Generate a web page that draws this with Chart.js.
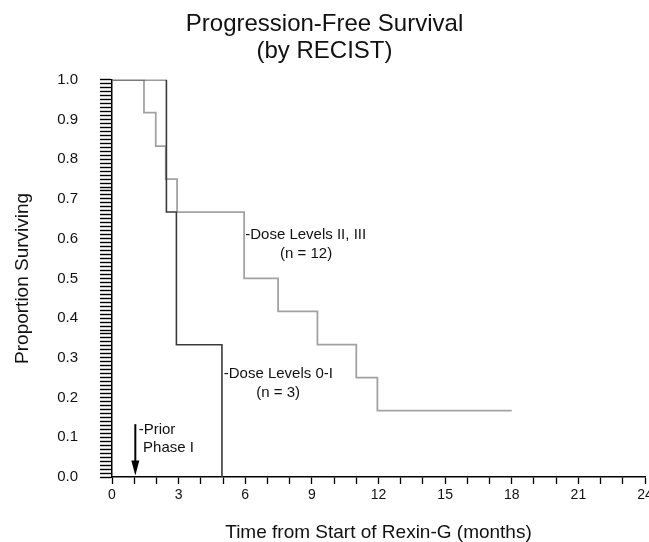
<!DOCTYPE html>
<html>
<head>
<meta charset="utf-8">
<title>Progression-Free Survival</title>
<script src="https://cdn.jsdelivr.net/npm/chart.js@4.4.1/dist/chart.umd.min.js"></script>
<style>
    html, body { margin: 0; padding: 0; background: #fff; }
</style>
</head>
<body>
<canvas id="pfsChart" width="649" height="542"></canvas>
<script>
// Kaplan-Meier steps (months, proportion surviving)
const lowDoseTimes = [0, 2.45, 2.9, 4.95];
const lowDoseSurv = [1.0, 0.667, 0.333, 0.0];

const highDoseTimes = [0, 1.44, 1.97, 2.42, 2.93, 5.95, 7.48, 9.25, 11.0, 11.95, 18.0];
const highDoseSurv = [1.0, 0.917, 0.833, 0.750, 0.667, 0.500, 0.417, 0.333, 0.250, 0.167, 0.167];

const seriesNames = ['Dose Levels 0-I', 'Dose Levels II, III'];
const titleLines = ['Progression-Free Survival', '(by RECIST)'];
const xTitle = 'Time from Start of Rexin-G (months)';
const yTitle = 'Proportion Surviving';
const noteTexts = ['-Dose Levels II, III', '(n = 12)', '-Dose Levels 0-I', '(n = 3)', '-Prior', 'Phase I'];

Chart.defaults.font.family = '"Liberation Sans", Arial, Helvetica, sans-serif';
Chart.defaults.color = '#111';

function toPoints(xs, ys) {
    return xs.map((t, i) => ({ x: t, y: ys[i] }));
}

// texto das anotações, em unidades dos eixos
const notes = [
    { text: noteTexts[0], x: 6.0, y: 0.61, align: 'left' },
    { text: noteTexts[1], x: 8.74, y: 0.562, align: 'center' },
    { text: noteTexts[2], x: 5.03, y: 0.26, align: 'left' },
    { text: noteTexts[3], x: 7.48, y: 0.2115, align: 'center' },
    { text: noteTexts[4], x: 1.2, y: 0.118, align: 'left' },
    { text: noteTexts[5], x: 1.4, y: 0.073, align: 'left' }
];
const arrowAt = { x: 1.05, from: 0.133, to: 0.004 };

const notesPlugin = {
    id: 'notes',
    afterDatasetsDraw(chart) {
        const { ctx } = chart;
        const x = chart.scales.x, y = chart.scales.y;
        ctx.save();
        ctx.fillStyle = '#111';
        ctx.font = '15px "Liberation Sans", Arial, sans-serif';
        ctx.textBaseline = 'middle';
        notes.forEach(function(n) {
            ctx.textAlign = n.align;
            ctx.fillText(n.text, x.getPixelForValue(n.x), y.getPixelForValue(n.y));
        });

        // seta "Prior Phase I"
        const ax = x.getPixelForValue(arrowAt.x);
        const y0 = y.getPixelForValue(arrowAt.from);
        const y1 = y.getPixelForValue(arrowAt.to);
        ctx.strokeStyle = '#000';
        ctx.fillStyle = '#000';
        ctx.lineWidth = 2;
        ctx.beginPath();
        ctx.moveTo(ax, y0);
        ctx.lineTo(ax, y1 - 12);
        ctx.stroke();
        ctx.beginPath();
        ctx.moveTo(ax - 4, y1 - 15);
        ctx.lineTo(ax + 4, y1 - 15);
        ctx.lineTo(ax, y1);
        ctx.closePath();
        ctx.fill();
        ctx.restore();
    }
};

const ctx = document.getElementById('pfsChart').getContext('2d');
const pfsChart = new Chart(ctx, {
    type: 'line',
    data: {
        datasets: [{
            label: seriesNames[0],
            data: toPoints(lowDoseTimes, lowDoseSurv),
            borderColor: '#3a3a3a',
            borderWidth: 1.6,
            stepped: 'before',
            pointRadius: 0,
            fill: false
        }, {
            label: seriesNames[1],
            data: toPoints(highDoseTimes, highDoseSurv),
            borderColor: '#a2a2a2',
            borderWidth: 1.8,
            stepped: 'before',
            pointRadius: 0,
            fill: false
        }]
    },
    options: {
        responsive: false,
        animation: false,
        layout: { padding: 0 },
        plugins: {
            legend: { display: false },
            tooltip: { enabled: false },
            title: {
                display: true,
                text: titleLines,
                color: '#111',
                font: { size: 24, weight: 'normal', lineHeight: 1.13 },
                padding: { top: 10.5, bottom: 15 }
            }
        },
        scales: {
            x: {
                type: 'linear',
                min: 0,
                max: 24,
                afterFit(scale) {
                    scale.height = 65;
                    scale.paddingLeft = 0;
                    scale.paddingRight = 4;
                },
                border: { color: '#000', width: 1.5 },
                grid: { drawOnChartArea: false, drawTicks: true, tickLength: 7, tickColor: '#000', tickWidth: 1.3 },
                ticks: {
                    stepSize: 1,
                    autoSkip: false,
                    maxRotation: 0,
                    padding: 3,
                    color: '#111',
                    font: { size: 14 },
                    callback: v => (Math.round(v) % 3 === 0 ? String(Math.round(v)) : '')
                },
                title: {
                    display: true,
                    text: xTitle,
                    color: '#111',
                    font: { size: 19, lineHeight: 1 },
                    padding: { top: 0, bottom: 0 }
                }
            },
            y: {
                type: 'linear',
                min: 0,
                max: 1,
                afterFit(scale) {
                    scale.width = 112;
                    scale.paddingTop = 0;
                    scale.paddingBottom = 0;
                },
                border: { color: '#000', width: 1.5 },
                grid: { drawOnChartArea: false, drawTicks: true, tickLength: 12, tickColor: '#000', tickWidth: 1.4 },
                ticks: {
                    stepSize: 0.01,
                    autoSkip: false,
                    padding: 22,
                    color: '#111',
                    font: { size: 15 },
                    callback: v => (Math.round(v * 100) % 10 === 0 ? v.toFixed(1) : '')
                },
                title: {
                    display: true,
                    text: yTitle,
                    color: '#111',
                    font: { size: 19, lineHeight: 1.2 },
                    padding: { top: 11.5, bottom: 0 }
                }
            }
        }
    },
    plugins: [notesPlugin]
});
</script>
</body>
</html>
